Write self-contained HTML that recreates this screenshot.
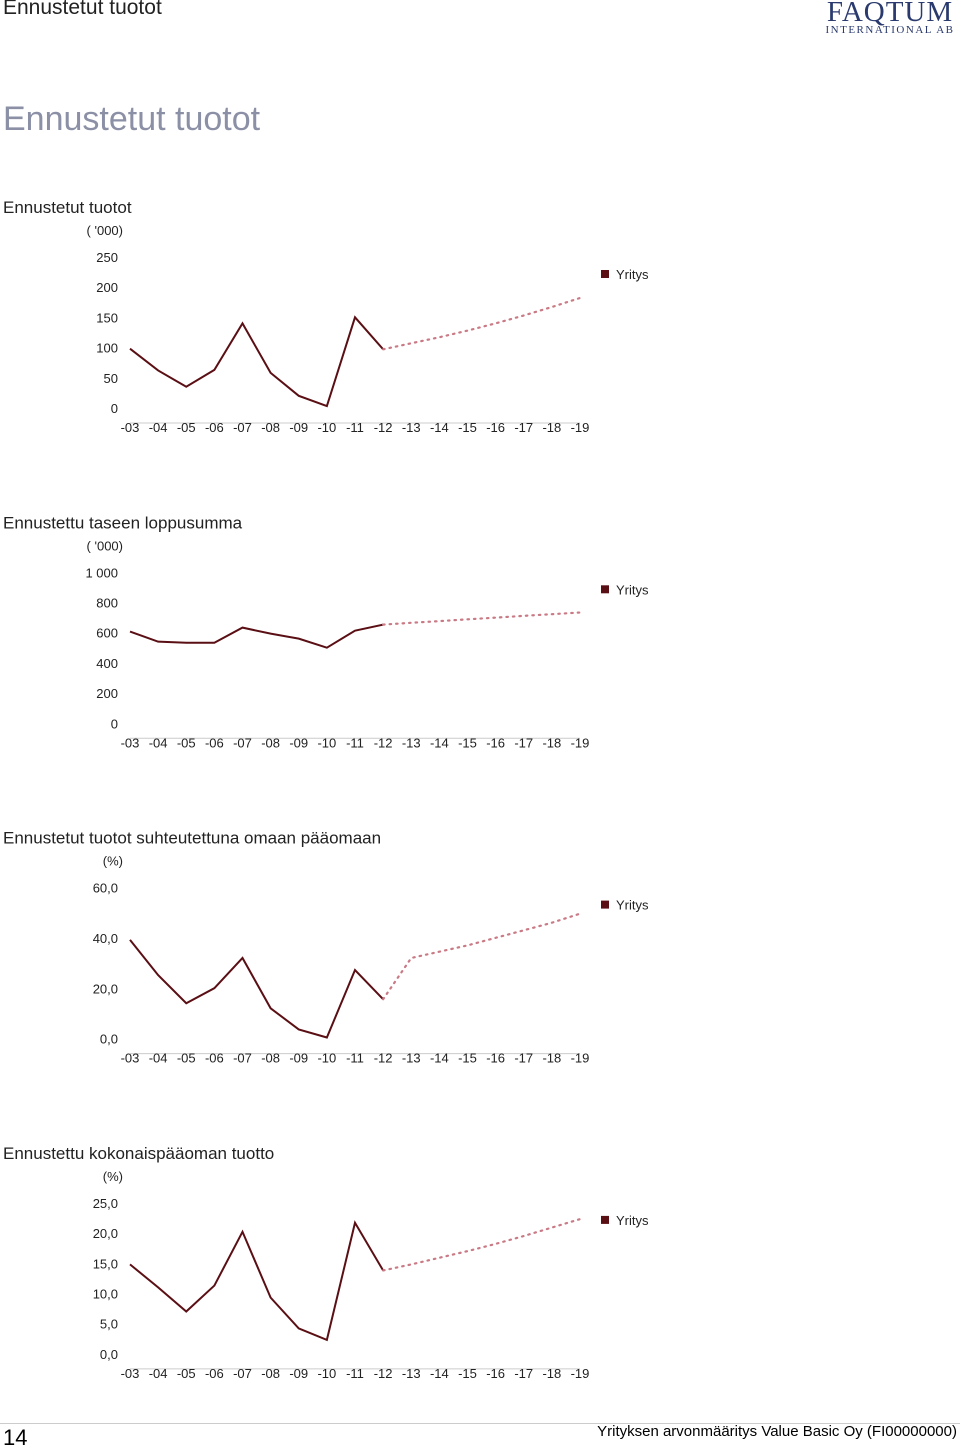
<!DOCTYPE html>
<html><head><meta charset="utf-8"><style>
body{margin:0;width:960px;height:1449px;background:#fff;position:relative;overflow:hidden;font-family:"Liberation Sans",sans-serif}
.hdr{position:absolute;left:3px;top:-4px;font-size:21px;color:#222}
.big{position:absolute;left:3px;top:100px;font-size:34px;color:#8b90a6}
svg{position:absolute;left:0;top:0}
.foot{position:absolute;left:0;top:1423px;width:960px;border-top:1px solid #ccc}
</style></head><body>
<div class="hdr">Ennustetut tuotot</div>
<div style="position:absolute;left:824px;top:-4px;font-family:'Liberation Serif',serif;color:#2a3a6e;text-align:center;width:132px">
<div style="font-size:29px;letter-spacing:1px">FAQTUM</div>
<div style="font-size:11px;letter-spacing:1.5px;margin-top:-5px">INTERNATIONAL AB</div></div>
<div class="big">Ennustetut tuotot</div>
<svg id="c" width="960" height="1449"></svg>
<div class="foot"></div>
<div style="position:absolute;left:3px;top:1425px;font-size:22px">14</div>
<div style="position:absolute;right:3px;top:1423px;font-size:15px">Yrityksen arvonmääritys Value Basic Oy (FI00000000)</div>
<script>
const categories=["-03","-04","-05","-06","-07","-08","-09","-10","-11","-12","-13","-14","-15","-16","-17","-18","-19"];
const titles=["Ennustetut tuotot","Ennustettu taseen loppusumma","Ennustetut tuotot suhteutettuna omaan pääomaan","Ennustettu kokonaispääoman tuotto"];
const units=["( '000)","( '000)","(%)","(%)"];
const ticks1=["0","50","100","150","200","250"];
const ticks2=["0","200","400","600","800","1 000"];
const ticks3=["0,0","20,0","40,0","60,0"];
const ticks4=["0,0","5,0","10,0","15,0","20,0","25,0"];
const hist1=[123,87,60,88,165,83,45,28,175,122];
const fc1=[122,132,142,153,165,178,192,207];
const hist2=[707,640,633,633,733,693,660,600,713,753];
const fc2=[753,765,776,788,799,811,822,833];
const hist3=[45.2,31.2,20,26,38,18,9.6,6.4,33.2,21.6];
const fc3=[21.6,38,40.5,43,46,49,52,55.6];
const hist4=[17.3,13.5,9.5,13.8,22.7,11.8,6.7,4.8,24.2,16.3];
const fc4=[16.3,17.3,18.4,19.5,20.7,22,23.4,24.8];
const maxes=[250,1000,60,25];
const svg=document.getElementById('c');const NS="http://www.w3.org/2000/svg";
function mk(t,a,txt){const e=document.createElementNS(NS,t);for(const k in a)e.setAttribute(k,a[k]);if(txt!==undefined)e.textContent=txt;svg.appendChild(e);return e;}
const all=[[ticks1,hist1,fc1],[ticks2,hist2,fc2],[ticks3,hist3,fc3],[ticks4,hist4,fc4]];
all.forEach((d,i)=>{
 const off=i*315.3;const y0=408+off,yTop=257+off;const max=maxes[i];
 const yS=v=>y0-(v/max)*(y0-yTop);const xS=j=>130+j*(450/(categories.length-1));
 let t=mk('text',{x:3,y:213+off,'font-size':17,fill:'#222'},titles[i]);
 
 
 t=mk('text',{x:123,y:235+off,'font-size':13,'text-anchor':'end',fill:'#222'},units[i]);
 
 
 const tk=d[0];
 tk.forEach((lab,k)=>{const v=k*max/(tk.length-1);
  const e=mk('text',{x:118,y:yS(v)+5,'font-size':13,'text-anchor':'end',fill:'#222'},lab);
  
  });
 const ax=mk('line',{x1:130,x2:580,y1:y0+15,y2:y0+15,stroke:'#ccc'});
 
 
 categories.forEach((c,j)=>{const e=mk('text',{x:xS(j),y:y0+24,'font-size':13,'text-anchor':'middle',fill:'#222'},c);
  
  });
 const h=d[1].map((v,j)=>xS(j)+','+(yS(v)+15)).join(' ');
 const p=mk('polyline',{points:h,fill:'none',stroke:'#5a0f14','stroke-width':2});
 
 
 const f=d[2].map((v,j)=>xS(j+9)+','+(yS(v)+15)).join(' ');
 const q=mk('polyline',{points:f,fill:'none',stroke:'#c97a85','stroke-width':2.2,'stroke-dasharray':'1.5 5','stroke-linecap':'round'});
 
 
 const r=mk('rect',{x:601,y:270+off,width:8,height:8,fill:'#5a0f14'});
 
 
 const l=mk('text',{x:616,y:279+off,'font-size':13,fill:'#222'},'Yritys');
 
 
});
</script>
</body></html>
